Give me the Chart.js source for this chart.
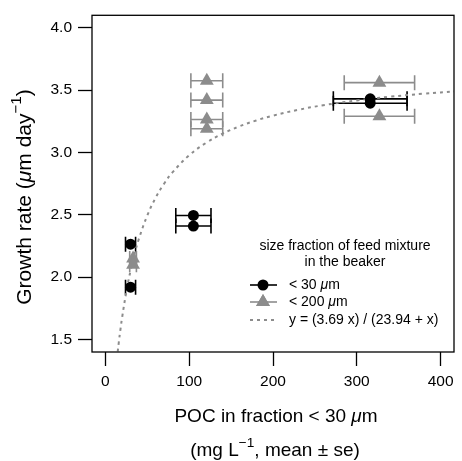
<!DOCTYPE html>
<html>
<head>
<meta charset="utf-8">
<script src="https://cdn.jsdelivr.net/npm/chart.js@4"></script>
<style>
  html, body { margin: 0; padding: 0; background: #fff; }
</style>
</head>
<body>
<canvas id="chart" width="462" height="461"></canvas>
<script>
// < 30 um feed fraction (black circles)
const poc30 = [30, 30, 105, 105, 316, 316];
const growth30 = [2.265, 1.92, 2.495, 2.41, 3.43, 3.395];
const se30 = [6, 6, 21, 21, 44, 44];

// < 200 um feed fraction (grey triangles)
const poc200 = [33, 33, 121, 121, 121, 121, 327, 327];
const growth200 = [2.15, 2.10, 3.575, 3.42, 3.265, 3.19, 3.56, 3.29];
const se200 = [4, 4, 19, 19, 19, 19, 42, 42];

// fitted curve y = a x / (k + x), coefficients from the legend
const fitA = 3.69;
const fitK = 23.94;
const fitX = [2, 5, 8, 10, 12, 14, 16, 18, 20, 25, 30, 35, 40, 50, 60, 70, 80, 100, 120, 140, 160, 180, 200, 230, 260, 300, 340, 380, 420];

const xTicks = [0, 100, 200, 300, 400];
const yTicks = [1.5, 2.0, 2.5, 3.0, 3.5, 4.0];

const GREY = '#8c8c8c';
const FONT = "'Liberation Sans', Arial, Helvetica, sans-serif";

function pts(xs, ys) { return xs.map((x, i) => ({ x: x, y: ys[i] })); }

// draws a list of text runs; italic / superscript parts kept as real text
function drawRuns(ctx, runs, x, y, size, align) {
  const parts = runs.map(r => {
    const s = r.sup ? size * 0.72 : size;
    const f = (r.it ? 'italic ' : '') + s + 'px ' + FONT;
    ctx.font = f;
    return { t: r.t, f: f, w: ctx.measureText(r.t).width, dy: r.sup ? -size * 0.4 : 0 };
  });
  const total = parts.reduce((a, p) => a + p.w, 0);
  let cx = align === 'left' ? x : x - total / 2;
  ctx.textBaseline = 'middle';
  ctx.textAlign = 'left';
  parts.forEach(p => {
    ctx.font = p.f;
    ctx.fillText(p.t, cx, y + p.dy);
    cx += p.w;
  });
}

const errorBars = {
  id: 'errorBars',
  beforeDatasetsDraw(chart) {
    const ctx = chart.ctx, xs = chart.scales.x, ys = chart.scales.y;
    ctx.save();
    chart.data.datasets.forEach(ds => {
      if (!ds.xErr) return;
      ctx.strokeStyle = ds.errColor;
      ctx.lineWidth = 1.6;
      ds.data.forEach((p, i) => {
        const x0 = xs.getPixelForValue(p.x - ds.xErr[i]);
        const x1 = xs.getPixelForValue(p.x + ds.xErr[i]);
        const y = ys.getPixelForValue(p.y);
        ctx.beginPath();
        ctx.moveTo(x0, y); ctx.lineTo(x1, y);
        ctx.moveTo(x0, y - 7.5); ctx.lineTo(x0, y + 7.5);
        ctx.moveTo(x1, y - 7.5); ctx.lineTo(x1, y + 7.5);
        ctx.stroke();
      });
    });
    ctx.restore();
  }
};

const frame = {
  id: 'frame',
  afterDraw(chart) {
    const ctx = chart.ctx, a = chart.chartArea;
    ctx.save();
    ctx.strokeStyle = '#000';
    ctx.lineWidth = 1.3;
    ctx.strokeRect(a.left, a.top, a.right - a.left, a.bottom - a.top);

    ctx.fillStyle = '#000';
    // axis titles
    drawRuns(ctx, [{ t: 'POC in fraction < 30 ' }, { t: 'μ', it: true }, { t: 'm' }], 276, 417, 19);
    drawRuns(ctx, [{ t: '(mg L' }, { t: '−1', sup: true }, { t: ', mean ± se)' }], 275, 451, 19);
    ctx.save();
    ctx.translate(25, 197);
    ctx.rotate(-Math.PI / 2);
    drawRuns(ctx, [{ t: 'Growth rate (' }, { t: 'μ', it: true }, { t: 'm day' }, { t: '−1', sup: true }, { t: ')' }], 0, 0, 21);
    ctx.restore();

    // legend
    ctx.fillStyle = '#000';
    drawRuns(ctx, [{ t: 'size fraction of feed mixture' }], 345, 246, 14);
    drawRuns(ctx, [{ t: 'in the beaker' }], 345, 262, 14);
    const rows = [285, 302, 320];
    const lx0 = 250, lx1 = 277, lxc = 263, tx = 289;
    ctx.lineWidth = 1.6;
    ctx.strokeStyle = '#000';
    ctx.beginPath(); ctx.moveTo(lx0, rows[0]); ctx.lineTo(lx1, rows[0]); ctx.stroke();
    ctx.beginPath(); ctx.arc(lxc, rows[0], 5.5, 0, Math.PI * 2); ctx.fill();
    ctx.strokeStyle = GREY; ctx.fillStyle = GREY;
    ctx.beginPath(); ctx.moveTo(lx0, rows[1]); ctx.lineTo(lx1, rows[1]); ctx.stroke();
    Chart.helpers.drawPoint(ctx, { pointStyle: 'triangle', radius: 8, rotation: 0, borderWidth: 0 }, lxc, rows[1]);
    ctx.fill();
    ctx.setLineDash([3, 4]);
    ctx.lineWidth = 1.8;
    ctx.beginPath(); ctx.moveTo(lx0, rows[2]); ctx.lineTo(lx1, rows[2]); ctx.stroke();
    ctx.setLineDash([]);
    ctx.fillStyle = '#000';
    drawRuns(ctx, [{ t: '< 30 ' }, { t: 'μ', it: true }, { t: 'm' }], tx, rows[0], 14, 'left');
    drawRuns(ctx, [{ t: '< 200 ' }, { t: 'μ', it: true }, { t: 'm' }], tx, rows[1], 14, 'left');
    drawRuns(ctx, [{ t: 'y = (3.69 x) / (23.94 + x)' }], tx, rows[2], 14, 'left');
    ctx.restore();
  }
};

new Chart(document.getElementById('chart'), {
  type: 'scatter',
  data: {
    datasets: [
      {
        data: pts(poc30, growth30),
        xErr: se30, errColor: '#000',
        pointStyle: 'circle', pointRadius: 5.5, pointBackgroundColor: '#000', pointBorderWidth: 0
      },
      {
        data: pts(poc200, growth200),
        xErr: se200, errColor: GREY,
        pointStyle: 'triangle', pointRadius: 8, pointBackgroundColor: GREY, pointBorderWidth: 0
      },
      {
        type: 'line',
        data: pts(fitX, fitX.map(x => fitA * x / (fitK + x))),
        borderColor: GREY, borderWidth: 2, borderDash: [3, 4],
        pointRadius: 0, tension: 0.4, fill: false
      }
    ]
  },
  options: {
    responsive: false,
    animation: false,
    devicePixelRatio: 1,
    layout: { padding: { top: 9.5, right: 1.5, left: 0, bottom: 0 } },
    plugins: { legend: { display: false }, tooltip: { enabled: false } },
    scales: {
      x: {
        type: 'linear', min: -16, max: 416,
        afterBuildTicks: s => { s.ticks = xTicks.map(v => ({ value: v })); },
        afterFit: s => { s.height = 109; },
        grid: { drawOnChartArea: false, tickLength: 14, color: '#000', tickWidth: 1.3 },
        border: { display: false },
        ticks: { color: '#000', font: { family: FONT, size: 15.5 }, padding: 6, maxRotation: 0 }
      },
      y: {
        type: 'linear', min: 1.4, max: 4.1,
        afterBuildTicks: s => { s.ticks = yTicks.map(v => ({ value: v })); },
        afterFit: s => { s.width = 92; },
        grid: { drawOnChartArea: false, tickLength: 14, color: '#000', tickWidth: 1.3 },
        border: { display: false },
        ticks: { color: '#000', font: { family: FONT, size: 15.5 }, padding: 6, callback: v => v.toFixed(1) }
      }
    }
  },
  plugins: [errorBars, frame]
});
</script>
</body>
</html>
